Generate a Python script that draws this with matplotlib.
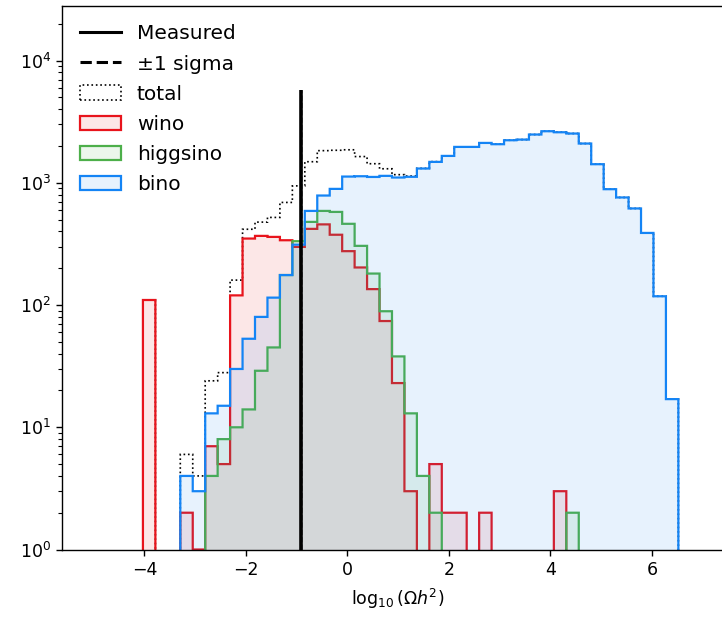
import numpy as np
import matplotlib
matplotlib.use('Agg')
import matplotlib.pyplot as plt
import matplotlib.colors as mcolors
from matplotlib.lines import Line2D

# bin edges in log10(Omega h^2), counts per bin
edges = np.linspace(-4.03, 6.52, 44)
wino = [110, 0, 0, 2, 1, 7, 5, 120, 350, 368, 361, 339, 299, 420, 457, 376,
        276, 203, 135, 74, 23, 3, 0, 5, 2, 2, 0, 2, 0, 0, 0, 0, 0, 3,
        0, 0, 0, 0, 0, 0, 0, 0, 0]
higgsino = [0, 0, 0, 0, 0, 4, 8, 10, 14, 29, 45, 176, 333, 479, 589, 578,
            462, 305, 181, 89, 38, 13, 4, 2, 0, 0, 0, 0, 0, 0, 0, 0, 0, 0,
            2, 0, 0, 0, 0, 0, 0, 0, 0]
bino = [0, 0, 0, 4, 3, 13, 15, 30, 53, 80, 115, 176, 312, 589, 787, 892,
        1125, 1132, 1117, 1140, 1105, 1120, 1309, 1483, 1660, 1967, 1967,
        2120, 2070, 2230, 2258, 2484, 2643, 2592, 2530, 2096, 1420, 887,
        759, 617, 389, 118, 17]
omega_meas = 0.12
omega_sig = 0.0012
line_top = 5700

total = np.array(wino) + np.array(higgsino) + np.array(bino)
centers = 0.5 * (edges[1:] + edges[:-1])

fig = plt.figure(figsize=(7.22, 6.18), dpi=100)
ax = fig.add_axes([0.0862, 0.1108, 0.93, 0.879])

x0 = np.log10(omega_meas)
xs = np.log10([omega_meas - omega_sig, omega_meas + omega_sig])
ax.vlines(xs, 0.5, line_top, colors='k', linestyles='--', lw=1.0)
ax.vlines(x0, 0.5, line_top, colors='k', lw=2.6)

_, _, ptot = ax.hist(centers, bins=edges, weights=total, histtype='step',
                     color='k', ls=':', lw=1.2, log=True, label='total',
                     zorder=0.9)
ptot[0].set_snap(False)
handles = [Line2D([], [], color='k', lw=2.2, label='Measured'),
           Line2D([], [], color='k', lw=2.2, ls='--', label='±1 sigma'),
           ptot[0]]
for vals, c, name in [(wino, '#e8141c', 'wino'),
                      (higgsino, '#4daf4a', 'higgsino'),
                      (bino, '#1484f5', 'bino')]:
    _, _, p = ax.hist(centers, bins=edges, weights=vals, histtype='stepfilled',
                      facecolor=mcolors.to_rgba(c, 0.1), edgecolor=c,
                      lw=1.6, log=True, label=name)
    p[0].set_snap(False)
    handles.append(p[0])

ax.set_yscale('log')
ax.set_ylim(1, 27800)
ax.set_xlim(-5.62, 7.61)
ax.set_xticks([-4, -2, 0, 2, 4, 6])
ax.tick_params(labelsize=12.5, length=4.5, width=1.0)
ax.tick_params(which='minor', length=2.6, width=0.8)
for s in ax.spines.values():
    s.set_linewidth(1.0)
ax.set_xlabel(r'$\log_{10}(\Omega h^2)$', fontsize=12.5, labelpad=6)

ax.legend(handles=handles, loc='upper left', frameon=False, fontsize=14.5,
          labelspacing=0.55)

fig.savefig('out.png', dpi=100)
